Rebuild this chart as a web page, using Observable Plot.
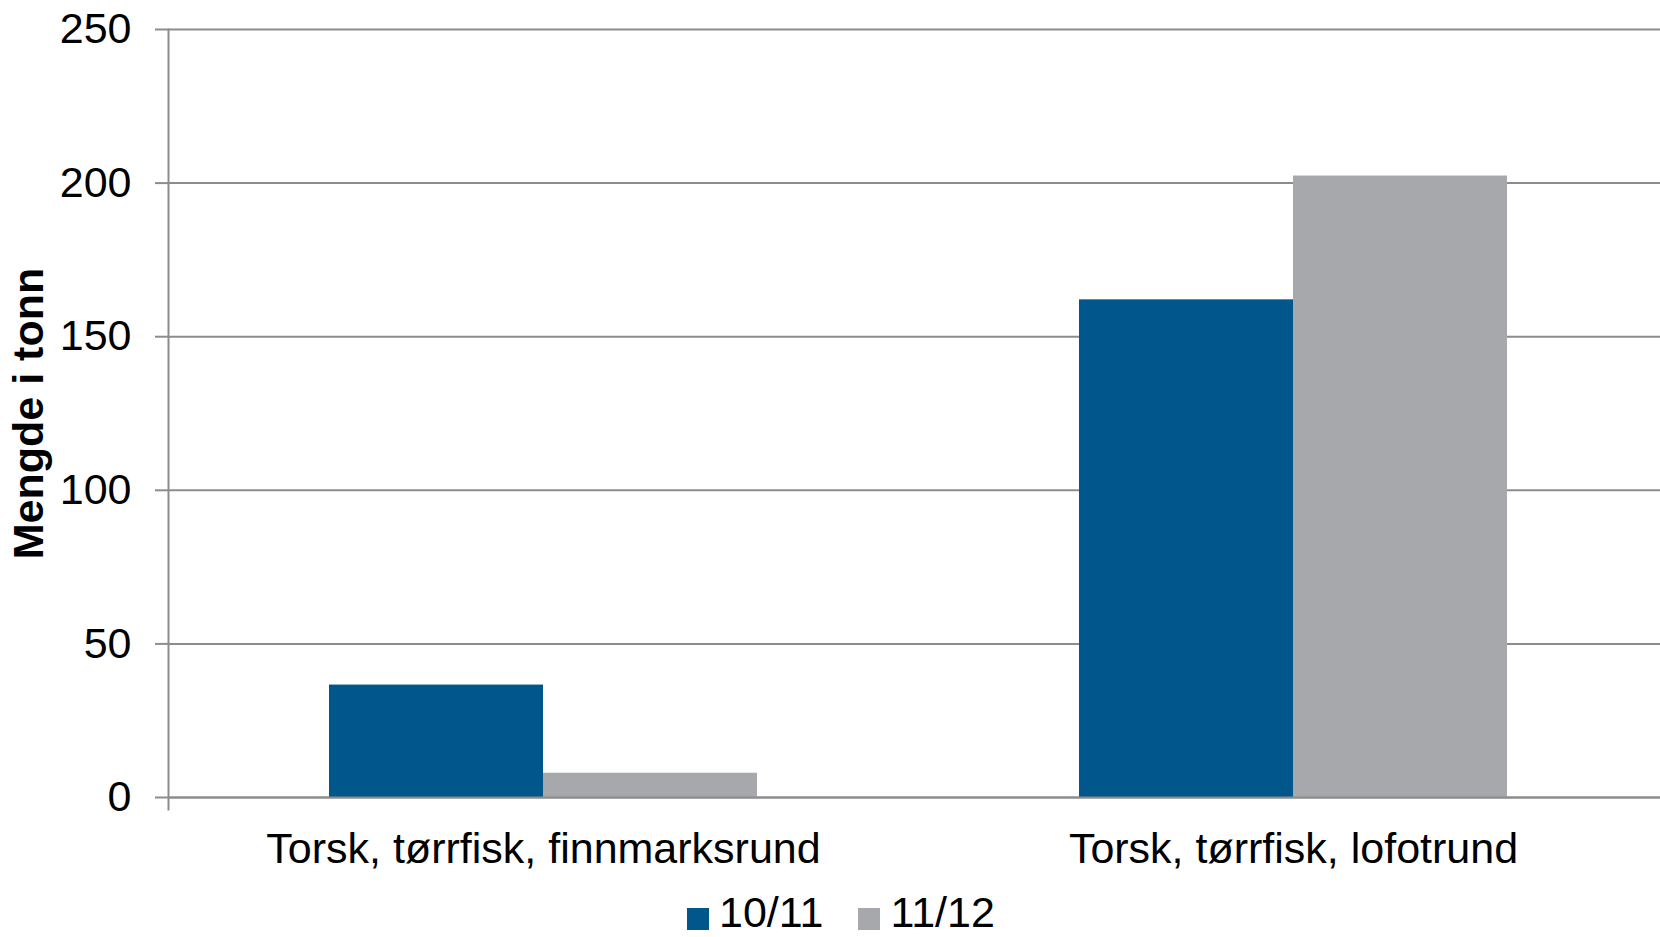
<!DOCTYPE html>
<html><head><meta charset="utf-8">
<script src="https://cdn.jsdelivr.net/npm/d3@7"></script>
<script src="https://cdn.jsdelivr.net/npm/@observablehq/plot@0.6"></script>
<style>
html,body{margin:0;padding:0;background:#fff;overflow:hidden;}
body{position:relative;width:1660px;height:937px;}
#chart svg{display:block;max-width:none !important;}
#legend{position:absolute;left:687px;top:891px;display:flex;align-items:flex-start;height:43px;line-height:43px;font-family:"Liberation Sans",Arial,sans-serif;font-size:43px;color:#000;}
.item{display:flex;align-items:flex-start;margin-right:35px;}
.sw{width:22px;height:22px;margin-top:17px;margin-right:10px;}
</style></head><body><div id="chart"></div><div id="legend"></div>
<script>
const categories = ["Torsk, tørrfisk, finnmarksrund", "Torsk, tørrfisk, lofotrund"];
const seriesNames = ["10/11", "11/12"];
const values1011 = [36.6, 162];
const values1112 = [7.9, 202.3];
const yTicks = [0, 50, 100, 150, 200, 250];
const colors = ["#01578b", "#a7a8ab"];
const yTitle = "Mengde i tonn";

const data = categories.flatMap((c, i) => [
  {category: c, series: seriesNames[0], value: values1011[i]},
  {category: c, series: seriesNames[1], value: values1112[i]}
]);

const gray = "#8c8c8c";
const chart = Plot.plot({
  width: 1668, height: 890,
  marginLeft: 168, marginRight: 0, marginTop: 29, marginBottom: 93,
  style: {fontFamily: "'Liberation Sans', Arial, sans-serif", fontSize: "43px", color: "#000", background: "#fff", overflow: "visible", maxWidth: "none"},
  fx: {domain: categories, padding: 0, label: null, axis: null},
  x: {domain: seriesNames, paddingInner: 0, paddingOuter: 0.75, axis: null},
  y: {domain: [0, 250], axis: null},
  color: {domain: seriesNames, range: colors},
  marks: [
    Plot.gridY(yTicks, {stroke: gray, strokeOpacity: 1, strokeWidth: 2}),
    Plot.barY(data, {fx: "category", x: "series", y: "value", fill: "series"}),
    Plot.ruleY([0], {stroke: gray, strokeWidth: 2}),
    Plot.frame({anchor: "left", facetAnchor: "left", stroke: gray, strokeWidth: 2, insetBottom: -12}),
    Plot.axisY({ticks: yTicks, tickSize: 13, tickPadding: 24, stroke: gray, strokeWidth: 2, fill: "#000", fontSize: 43, label: null}),
    Plot.axisFx({anchor: "bottom", tickSize: 0, tickPadding: 35, fontSize: 43, label: null, fill: "#000"}),
    Plot.text([yTitle], {frameAnchor: "left", facetAnchor: "left", dx: -139, rotate: -90, textAnchor: "middle", fontSize: 43, fontWeight: "bold", fill: "#000"})
  ]
});
document.getElementById("chart").append(chart);

const legend = document.getElementById("legend");
seriesNames.forEach((s, i) => {
  const item = document.createElement("div");
  item.className = "item";
  const sw = document.createElement("div");
  sw.className = "sw";
  sw.style.background = colors[i];
  const label = document.createElement("span");
  label.textContent = s;
  item.append(sw, label);
  legend.append(item);
});
</script></body></html>
